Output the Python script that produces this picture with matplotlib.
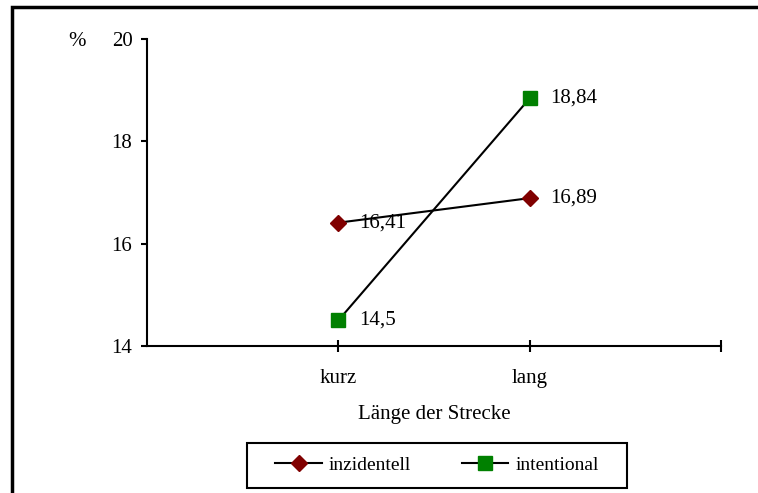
import matplotlib
matplotlib.use('Agg')
import matplotlib.pyplot as plt
from matplotlib.patches import Rectangle

plt.rcParams['font.family'] = ['Liberation Serif', 'DejaVu Serif']
plt.rcParams['font.size'] = 15

categories = ['kurz', 'lang']
inzidentell = [16.41, 16.89]
intentional = [14.5, 18.84]
inz_labels = ['16,41', '16,89']
int_labels = ['14,5', '18,84']

fig = plt.figure(figsize=(7.58, 4.93), dpi=100)
ax = fig.add_axes([147/758, 147/493, 574/758, 307/493])

xpos = [1, 2]
ax.plot(xpos, inzidentell, color='black', lw=1.5, marker='D', ms=8,
        mfc='#800000', mec='#800000', label='inzidentell')
ax.plot(xpos, intentional, color='black', lw=1.5, marker='s', ms=10,
        mfc='#008000', mec='#008000', label='intentional')

for x, v, t in zip(xpos, inzidentell, inz_labels):
    ax.annotate(t, (x, v), xytext=(15, 0), textcoords='offset points',
                va='center', ha='left', fontsize=15)
for x, v, t in zip(xpos, intentional, int_labels):
    ax.annotate(t, (x, v), xytext=(15, 0), textcoords='offset points',
                va='center', ha='left', fontsize=15)

ax.set_xlim(0, 3)
ax.set_ylim(14, 20)
ax.set_yticks([14, 16, 18, 20])
ax.set_xticks([1, 2, 3])
ax.set_xticklabels(categories + [''])
ax.spines['top'].set_visible(False)
ax.spines['right'].set_visible(False)
for s in ['left', 'bottom']:
    ax.spines[s].set_linewidth(1.5)
ax.tick_params(axis='y', direction='out', length=4.5, width=1.5, pad=6, labelsize=15)
ax.tick_params(axis='x', direction='inout', length=9, width=1.5, pad=12, labelsize=15)
ax.set_xlabel('Länge der Strecke', fontsize=15, labelpad=12)

fig.text(77/758, 1 - 42/493, '%', fontsize=15, ha='center', va='center')

# legend without frame, frame drawn separately (Excel-like padding)
leg = ax.legend(loc='center', bbox_to_anchor=(437/758, 1 - 465/493),
                bbox_transform=fig.transFigure, ncol=2, frameon=False,
                fontsize=14, handlelength=2.4, handletextpad=0.35,
                columnspacing=2.6, borderpad=0, borderaxespad=0)
fig.patches.append(Rectangle((247/758, 1 - 488/493), 380/758, 45/493,
                             transform=fig.transFigure, fill=False,
                             edgecolor='black', lw=1.5))

fig.patches.append(Rectangle((12/758, -0.1), 1.2, (1 - 7/493) + 0.1,
                             transform=fig.transFigure, fill=False,
                             edgecolor='black', lw=2.5))

fig.savefig('out.png', dpi=100)
